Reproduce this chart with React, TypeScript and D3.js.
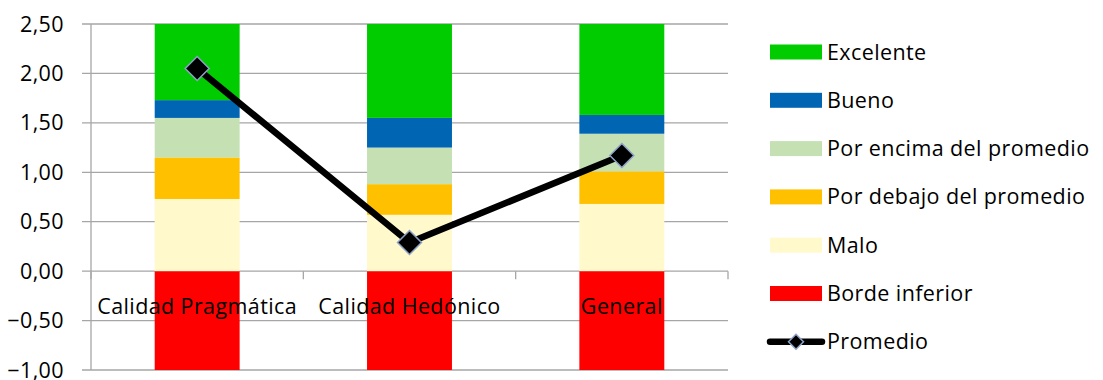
import React from 'react';
import * as d3 from 'd3';

const categories = ['Calidad Pragmática', 'Calidad Hedónico', 'General'];
const bordeInferior = [-1, -1, -1];
const malo = [0.73, 0.57, 0.68];
const porDebajo = [0.42, 0.31, 0.33];
const porEncima = [0.4, 0.37, 0.38];
const bueno = [0.18, 0.3, 0.19];
const excelente = [0.77, 0.95, 0.92];
const promedio = [2.05, 0.29, 1.17];
const yTicks = [-1, -0.5, 0, 0.5, 1, 1.5, 2, 2.5];

const seriesInfo = [
  { key: 'Borde inferior', values: bordeInferior, color: '#FF0000' },
  { key: 'Malo', values: malo, color: '#FFF9CC' },
  { key: 'Por debajo del promedio', values: porDebajo, color: '#FFC000' },
  { key: 'Por encima del promedio', values: porEncima, color: '#C5E0B3' },
  { key: 'Bueno', values: bueno, color: '#0066B3' },
  { key: 'Excelente', values: excelente, color: '#00CC00' },
];

const W = 1103;
const H = 380;
const FONT = '"Open Sans", Lato, sans-serif';
const FS = 21.5;
const LS = 0.4;
const GRID = '#A6A6A6';

const App = () => {
  const x = d3.scaleBand().domain(categories).range([91, 728]).paddingInner(0.6).paddingOuter(0.3);
  const step = x.step();
  const y = d3.scaleLinear().domain([-1, 2.5]).range([370, 24]);

  const rows = categories.map((c, i) => {
    const r: any = { cat: c };
    seriesInfo.forEach(s => (r[s.key] = s.values[i]));
    return r;
  });
  const stacked = d3
    .stack()
    .keys(seriesInfo.map(s => s.key))
    .offset(d3.stackOffsetDiverging)(rows);

  const center = (c: string) => (x(c) as number) + x.bandwidth() / 2;
  const line = d3
    .line<number>()
    .x((d, i) => center(categories[i]))
    .y(d => y(d));

  // legend: top to bottom is reverse of stack order, then Promedio
  const legendItems = [...seriesInfo].reverse();
  const legY = (i: number) => 52 + i * 48.3;
  const diamond = (cx: number, cy: number, r: number) =>
    `M${cx},${cy - r}L${cx + r},${cy}L${cx},${cy + r}L${cx - r},${cy}Z`;

  const textProps = { fontFamily: FONT, fontSize: FS, letterSpacing: LS, fill: '#000' };

  return (
    <svg width={W} height={H} style={{ position: 'absolute', left: 0, top: 0, background: '#fff' }}>
      {/* gridlines + y ticks */}
      {yTicks.map(t => (
        <g key={t}>
          <line x1={82} x2={728} y1={y(t)} y2={y(t)} stroke={GRID} strokeWidth={1.3} />
          <text x={64} y={y(t)} dy="0.35em" textAnchor="end" {...textProps}>
            {d3.format('.2f')(t).replace('.', ',')}
          </text>
        </g>
      ))}
      <line x1={91} x2={91} y1={24} y2={370} stroke={GRID} strokeWidth={1.3} />
      {/* category ticks on zero line */}
      {d3.range(categories.length + 1).map(i => (
        <line key={i} x1={91 + i * step} x2={91 + i * step} y1={y(0)} y2={y(0) + 8} stroke={GRID} strokeWidth={1.3} />
      ))}
      {/* stacked bars */}
      {stacked.map((s, si) => (
        <g key={s.key} fill={seriesInfo[si].color}>
          {s.map((d, i) => (
            <rect
              key={i}
              x={x(categories[i])}
              width={x.bandwidth()}
              y={y(Math.max(d[0], d[1]))}
              height={Math.abs(y(d[0]) - y(d[1]))}
            />
          ))}
        </g>
      ))}
      {/* category labels */}
      {categories.map(c => (
        <text key={c} x={center(c)} y={306} dy="0.35em" textAnchor="middle" {...textProps}>
          {c}
        </text>
      ))}
      {/* promedio line */}
      <path d={line(promedio) || ''} fill="none" stroke="#000" strokeWidth={6.5} strokeLinejoin="round" />
      {promedio.map((v, i) => (
        <path key={i} d={diamond(center(categories[i]), y(v), 12)} fill="#000" stroke="#8EA2C8" strokeWidth={1.5} />
      ))}
      {/* legend */}
      {legendItems.map((s, i) => (
        <g key={s.key}>
          <rect x={770} y={legY(i) - 7.5} width={52} height={15} fill={s.color} />
          <text x={827} y={legY(i)} dy="0.35em" {...textProps}>
            {s.key}
          </text>
        </g>
      ))}
      <g>
        <line x1={770} x2={822} y1={legY(6)} y2={legY(6)} stroke="#000" strokeWidth={6.5} strokeLinecap="round" />
        <path d={diamond(796, legY(6), 7.5)} fill="#000" stroke="#8EA2C8" strokeWidth={1.5} />
        <text x={827} y={legY(6)} dy="0.35em" {...textProps}>
          Promedio
        </text>
      </g>
    </svg>
  );
};

export default App;
